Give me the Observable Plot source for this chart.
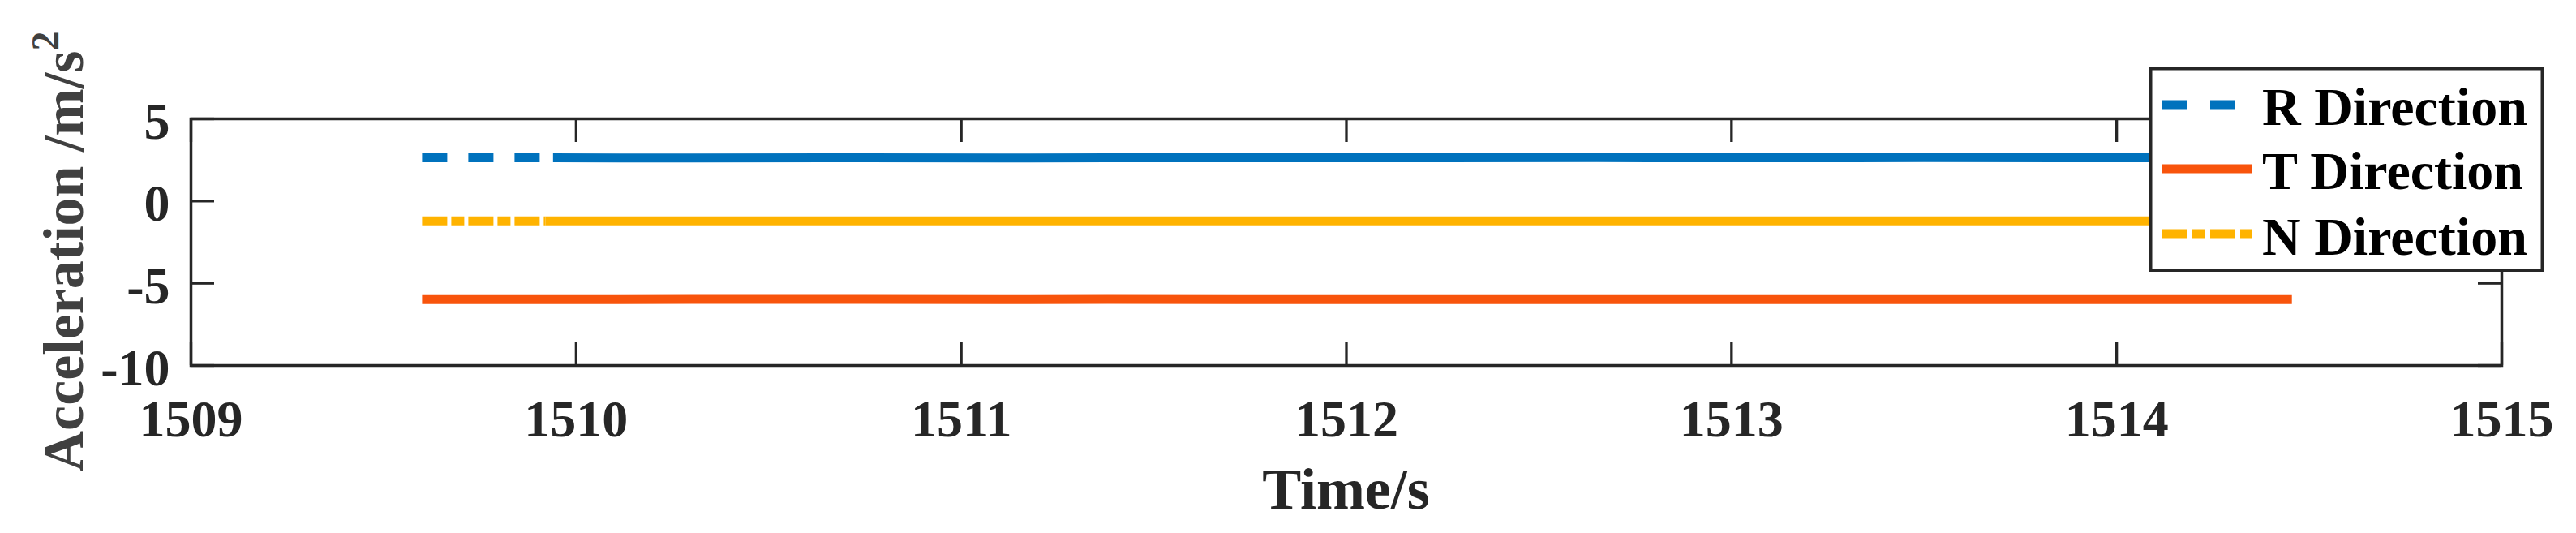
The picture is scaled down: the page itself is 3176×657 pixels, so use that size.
<!DOCTYPE html>
<html>
<head>
<meta charset="utf-8">
<script src="https://cdn.jsdelivr.net/npm/d3@7"></script>
<script src="https://cdn.jsdelivr.net/npm/@observablehq/plot@0.6"></script>
<style>
  html, body { margin: 0; padding: 0; background: #fff; }
  #chart { width: 3176px; height: 657px; }
</style>
</head>
<body>
<div id="chart"></div>
<script>
// ---- data ----
const seriesNames = ["R Direction", "T Direction", "N Direction"];
const timeS = [1509.60, 1509.92, 1509.94, 1510.30, 1510.75, 1511.10, 1511.38, 1512.00, 1512.65, 1513.00, 1513.50, 1514.00, 1514.455];
const accR  = [2.63, 2.63, 2.63, 2.62, 2.63, 2.62, 2.63, 2.63, 2.64, 2.63, 2.64, 2.63, 2.63];
const accT  = [-5.99, -5.99, -5.99, -5.98, -5.98, -5.99, -5.98, -5.99, -5.99, -5.99, -5.99, -5.99, -5.99];
const accN  = [-1.21, -1.21, -1.21, -1.21, -1.21, -1.21, -1.21, -1.21, -1.21, -1.21, -1.21, -1.21, -1.21];
const dashedUntil = [1509.94, null, 1509.92];   // the reference draws a short dashed start, then solid
const xTicks = [1509, 1510, 1511, 1512, 1513, 1514, 1515];
const yTicks = [-10, -5, 0, 5];
const xLabel = "Time/s";
const yLabel = "Acceleration /m/s";
const yLabelSup = "2";

// ---- styles ----
const colors = ["#0072BD", "#F8540C", "#FFB300"];
const dashes = ["31,26", null, "31,5,16,5"];
const legendDashes = ["31,29", null, "31,6,16,7"];
const FONT = "'Liberation Serif', 'Times New Roman', Times, serif";
const W = 3176, H = 657;
const mL = 235, mR = 92, mT = 146, mB = 207;
const innerW = W - mL - mR, innerH = H - mT - mB;
const TICK = 29;

const values = [accR, accT, accN];
const series = seriesNames.map((name, i) => timeS.map((t, j) => ({name, t, v: values[i][j]})));

const lineMarks = [];
series.forEach((pts, i) => {
  const cut = dashedUntil[i];
  if (cut != null) {
    lineMarks.push(Plot.line(pts.filter(d => d.t <= cut + 1e-9), {x: "t", y: "v", stroke: colors[i], strokeWidth: 11, strokeDasharray: dashes[i], strokeLinecap: "butt"}));
    lineMarks.push(Plot.line(pts.filter(d => d.t >= cut - 1e-9), {x: "t", y: "v", stroke: colors[i], strokeWidth: 11, strokeLinecap: "butt"}));
  } else {
    lineMarks.push(Plot.line(pts, {x: "t", y: "v", stroke: colors[i], strokeWidth: 11, strokeLinecap: "butt"}));
  }
});

const fmt = d => String(d);
const chart = Plot.plot({
  width: W, height: H,
  marginLeft: mL, marginRight: mR, marginTop: mT, marginBottom: mB,
  style: {fontFamily: FONT, fontWeight: "bold", color: "#262626", background: "#fff"},
  x: {domain: [1509, 1515]},
  y: {domain: [-10, 5]},
  marks: [
    lineMarks[3], lineMarks[2], lineMarks[4], lineMarks[0], lineMarks[1],
    Plot.frame({stroke: "#262626", strokeWidth: 3.5}),
    Plot.tickY(yTicks, {y: d => d, stroke: "#262626", strokeWidth: 3.3, insetRight: innerW - TICK}),
    Plot.tickY(yTicks, {y: d => d, stroke: "#262626", strokeWidth: 3.3, insetLeft: innerW - TICK}),
    Plot.tickX(xTicks, {x: d => d, stroke: "#262626", strokeWidth: 3.3, insetTop: innerH - TICK}),
    Plot.tickX(xTicks, {x: d => d, stroke: "#262626", strokeWidth: 3.3, insetBottom: innerH - TICK}),
    Plot.axisX(xTicks, {anchor: "bottom", tickSize: 0, tickPadding: 42, fontSize: 64, fontWeight: "bold", tickFormat: fmt, label: null}),
    Plot.axisY(yTicks, {anchor: "left", tickSize: 0, tickPadding: 26, dy: 4, fontSize: 64, fontWeight: "bold", tickFormat: fmt, label: null})
  ]
});
document.getElementById("chart").appendChild(chart);

// ---- axis titles and legend ----
const svg = d3.select(chart);
svg.append("text")
  .attr("x", mL + innerW / 2).attr("y", 627)
  .attr("text-anchor", "middle")
  .attr("font-family", FONT).attr("font-weight", "bold").attr("font-size", 72)
  .attr("fill", "#262626")
  .text(xLabel);

const yl = svg.append("text")
  .attr("transform", `translate(102,${mT + innerH / 2 + 12}) rotate(-90)`)
  .attr("text-anchor", "middle")
  .attr("font-family", FONT).attr("font-weight", "bold").attr("font-size", 70)
  .attr("fill", "#404040");
yl.append("tspan").text(yLabel);
yl.append("tspan").attr("font-size", 48).attr("dy", -30).text(yLabelSup);

const lg = svg.append("g");
lg.append("rect")
  .attr("x", 2651.75).attr("y", 84.75).attr("width", 482.5).attr("height", 248.5)
  .attr("fill", "#fff").attr("stroke", "#262626").attr("stroke-width", 3.5);
const rowY = [129, 208, 288];
const textY = [154, 233, 314];
seriesNames.forEach((name, i) => {
  lg.append("line")
    .attr("x1", 2665).attr("x2", 2777).attr("y1", rowY[i]).attr("y2", rowY[i])
    .attr("stroke", colors[i]).attr("stroke-width", 11)
    .attr("stroke-dasharray", legendDashes[i]);
  lg.append("text")
    .attr("x", 2789).attr("y", textY[i])
    .attr("text-anchor", "start")
    .attr("font-family", FONT).attr("font-weight", "bold").attr("font-size", 66)
    .attr("fill", "#000")
    .text(name);
});
</script>
</body>
</html>
